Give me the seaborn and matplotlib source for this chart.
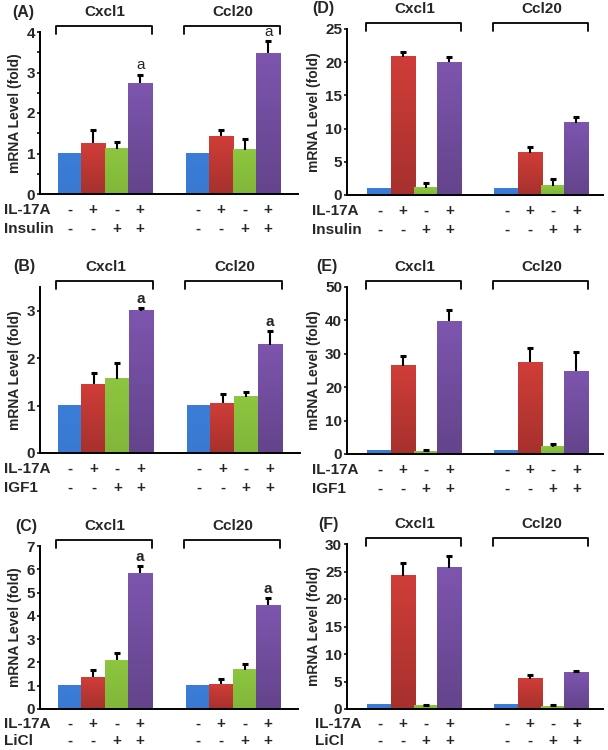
"""
Six-panel bar chart: Cxcl1 and Ccl20 mRNA levels with IL-17A and co-treatments.
"""

## Import packages
import numpy as np
import pandas as pd
import matplotlib
matplotlib.use('Agg')
import matplotlib.pyplot as plt
import matplotlib.colors as mcolors
import seaborn as sns


## Data
genes = ['Cxcl1', 'Ccl20']
il17a_signs = ['-', '+', '-', '+']
cotreat_signs = ['-', '-', '+', '+']
treat_names = ['ctrl', 'il17a', 'co', 'both']

panel_letters = ['(A)', '(B)', '(C)', '(D)', '(E)', '(F)']
cotreatments = ['Insulin', 'IGF1', 'LiCl', 'Insulin', 'IGF1', 'LiCl']

# Means (Cxcl1 four bars, then Ccl20 four bars) and upper error bars
means_A = [1.00, 1.25, 1.12, 2.73, 1.00, 1.43, 1.09, 3.47]
errs_A = [0.00, 0.33, 0.16, 0.22, 0.00, 0.15, 0.26, 0.30]
means_B = [1.00, 1.45, 1.57, 3.00, 1.00, 1.05, 1.19, 2.28]
errs_B = [0.00, 0.24, 0.32, 0.05, 0.00, 0.20, 0.09, 0.29]
means_C = [1.00, 1.37, 2.09, 5.83, 1.00, 1.07, 1.68, 4.45]
errs_C = [0.00, 0.32, 0.31, 0.32, 0.00, 0.20, 0.25, 0.30]
means_D = [1.0, 20.8, 1.1, 20.0, 1.0, 6.4, 1.4, 10.9]
errs_D = [0.0, 0.7, 0.76, 0.8, 0.0, 0.8, 1.0, 0.8]
means_E = [0.9, 26.4, 0.7, 39.8, 0.9, 27.4, 2.1, 24.8]
errs_E = [0.0, 3.0, 0.5, 3.4, 0.0, 4.2, 0.9, 5.8]
means_F = [0.9, 24.2, 0.6, 25.7, 0.9, 5.5, 0.4, 6.7]
errs_F = [0.0, 2.3, 0.2, 2.1, 0.0, 0.6, 0.25, 0.3]

# Significance marks ('a') per panel, as bar indices
marks_A = [3, 7]
marks_B = [3, 7]
marks_C = [3, 7]

# Axis ranges and ticks
ylims = [4, 3.5, 7, 25, 50, 30]
yticks = [np.arange(0, 5, 1), np.arange(0, 4, 1), np.arange(0, 8, 1),
          np.arange(0, 30, 5), np.arange(0, 60, 10), np.arange(0, 35, 5)]
minor_steps = [0.5, None, None, None, None, None]

panel_means = [means_A, means_B, means_C, means_D, means_E, means_F]
panel_errs = [errs_A, errs_B, errs_C, errs_D, errs_E, errs_F]
panel_marks = [marks_A, marks_B, marks_C, [], [], []]
mark_bold = [False, True, True, False, False, False]


## Figure parameters
W, H = 608, 750
colors = ['#3b7dd8', '#d03d38', '#8dc63f', '#7d55ae']
shade = [0.97, 0.80, 0.92, 0.80]     # bottom darkening of each bar's gradient
palette = dict(zip(treat_names, colors))
group_gap = 1.45
positions = [0, 1, 2, 3] + [4 + group_gap + i for i in range(4)]

# Axes boxes in pixels: left, top, right, bottom
boxes = [(40, 32, 298, 194), (40, 287, 300, 453), (40, 546, 298, 709),
         (347, 29, 603, 195), (347, 287, 603, 454), (347, 544, 603, 709)]
xlims = [(-1.27, 9.72)] * 3 + [(-1.4, 9.59)] * 3
letter_x = [12, 13, 15, 312, 316, 318]
label_x = [4, 4, 4, 312, 312, 315]
row_offsets = [(16, 35), (16, 35), (15, 32), (16, 35), (16, 35), (15, 32)]

sns.set_style('ticks')
plt.rcParams['font.family'] = ['Liberation Sans', 'DejaVu Sans']
plt.rcParams['font.weight'] = 'bold'

fig = plt.figure(figsize=(W / 100, H / 100), dpi=100)

for p in range(6):
    left, top, right, bottom = boxes[p]
    ax = fig.add_axes([left / W, 1 - bottom / H, (right - left) / W, (bottom - top) / H])
    h_px = bottom - top

    df = pd.DataFrame({'pos': positions,
                       'value': panel_means[p],
                       'treat': treat_names * 2})

    sns.barplot(ax=ax, data=df, x='pos', y='value', hue='treat', palette=palette,
                native_scale=True, dodge=False, width=1.0, saturation=1,
                errorbar=None, legend=False, linewidth=0)

    # Vertical gradient fill on each bar (slightly darker toward the base)
    for patch in ax.patches:
        fc = np.array(patch.get_facecolor()[:3])
        k = int(np.argmin([np.abs(fc - np.array(mcolors.to_rgb(c))).sum() for c in colors]))
        grad = np.linspace(fc * shade[k], fc, 64)[:, None, :]
        x0, y0 = patch.get_xy()
        ax.imshow(grad, extent=[x0 - 0.02, x0 + patch.get_width() + 0.02, y0, y0 + patch.get_height()],
                  origin='lower', aspect='auto', interpolation='nearest', zorder=patch.get_zorder())
        patch.set_visible(False)

    # Upper error bars only (stem plus cap)
    errs = np.array(panel_errs[p])
    vals = np.array(panel_means[p])
    has = errs > 0
    xs = np.array(positions)[has]
    ax.vlines(xs, vals[has], vals[has] + errs[has], color='black', lw=1.5, zorder=3)
    ax.plot(xs, vals[has] + errs[has], ls='none', marker='_', ms=5, mew=2.2,
            color='black', zorder=3)

    # Significance marks
    for i in panel_marks[p]:
        ax.annotate('a', xy=(positions[i], vals[i] + errs[i]), xytext=(0, 1.5),
                    textcoords='offset points', ha='center', va='bottom',
                    fontsize=11, fontweight='bold' if mark_bold[p] else 'normal')

    ax.set_xlim(*xlims[p])
    ax.set_ylim(0, ylims[p])
    ax.set_yticks(yticks[p])
    if minor_steps[p]:
        ax.set_yticks(np.arange(0, ylims[p], minor_steps[p]), minor=True)
    ax.set_xticks([])
    ax.set_xlabel('')
    ax.set_ylabel('mRNA Level (fold)', fontsize=10, fontweight='bold', labelpad=3)
    ax.tick_params(axis='y', which='both', labelsize=11, length=2.5, width=1.3, pad=1)
    for lab in ax.get_yticklabels():
        lab.set_fontweight('bold')
    sns.despine(ax=ax)
    for side in ['left', 'bottom']:
        ax.spines[side].set_linewidth(1.4)
        ax.spines[side].set_color('black')
        ax.spines[side].set_zorder(4)

    # Brackets and gene names
    trans = ax.get_xaxis_transform()
    for g in range(2):
        x0 = positions[4 * g] - 0.6
        x1 = positions[4 * g + 3] + 0.5
        y_hi = 1 + 6 / h_px
        y_lo = 1 - 2 / h_px
        ax.plot([x0, x0, x1, x1], [y_lo, y_hi, y_hi, y_lo], transform=trans,
                color='black', lw=1.3, clip_on=False)
        ax.text((positions[4 * g] + positions[4 * g + 3]) / 2, 1 + 20 / h_px, genes[g],
                transform=trans, ha='center', va='center', fontsize=11, fontweight='bold')

    # Panel letter
    fig.text(letter_x[p] / W, 1 - (top - 20) / H, panel_letters[p], ha='left', va='center',
             fontsize=11.5, fontweight='bold')

    # Treatment rows
    for r, (name, signs) in enumerate([('IL-17A', il17a_signs), (cotreatments[p], cotreat_signs)]):
        y_px = bottom + row_offsets[p][r]
        fig.text(label_x[p] / W, 1 - y_px / H, name, ha='left', va='center',
                 fontsize=11, fontweight='bold')
        for i in range(8):
            ax.text(positions[i], -(y_px - bottom) / h_px, signs[i % 4], transform=trans,
                    ha='center', va='center', fontsize=11, fontweight='bold')


# Save figure
plt.savefig('out.png', dpi=100)
